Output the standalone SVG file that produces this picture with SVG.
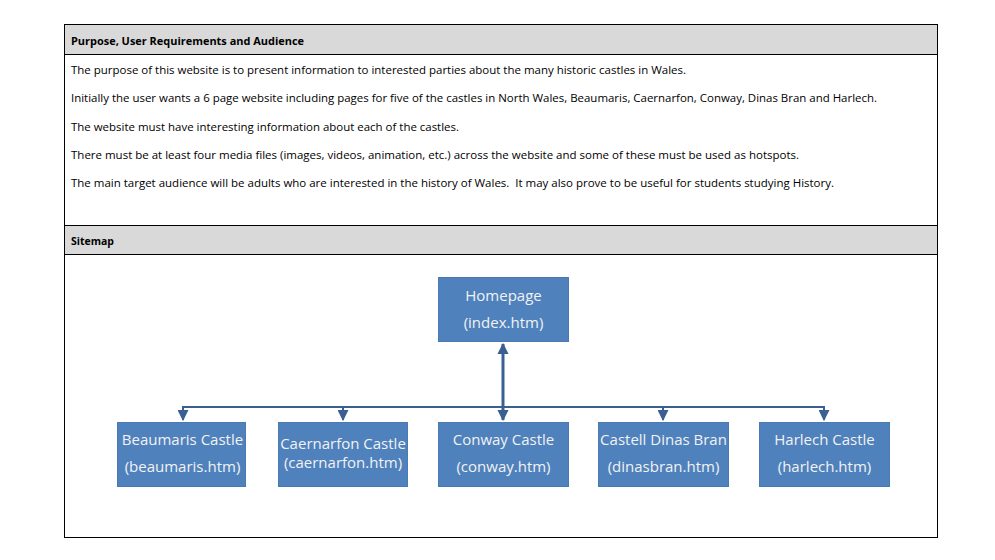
<svg xmlns="http://www.w3.org/2000/svg" width="995" height="560" viewBox="0 0 995 560">
<style>
.hdr{fill:#d9d9d9;stroke:#000;stroke-width:1}
.frame{fill:#fff;stroke:#000;stroke-width:1}
.t{font-family:"Open Sans","Liberation Sans",sans-serif;font-size:11px;fill:#000}
.b{font-weight:bold}
.box{fill:#4f81bd;stroke:#4a7ab3;stroke-width:1}
.bt{font-family:"Open Sans","Liberation Sans",sans-serif;font-size:15px;fill:#f2f2f2;text-anchor:middle}
.ln{stroke:#3a5f92;stroke-width:2;fill:none}
.ln3{stroke:#3a5f92;stroke-width:3;fill:none}
</style>
<defs>
<marker id="ah" viewBox="0 0 10 10" refX="9" refY="5" markerWidth="5.5" markerHeight="5.5" orient="auto-start-reverse" markerUnits="strokeWidth">
<path d="M0,0 L10,5 L0,10 z" fill="#3a5f92"/>
</marker>
<marker id="ah3" viewBox="0 0 10 10" refX="9" refY="5" markerWidth="3.7" markerHeight="3.7" orient="auto-start-reverse" markerUnits="strokeWidth">
<path d="M0,0 L10,5 L0,10 z" fill="#3a5f92"/>
</marker>
</defs>
<rect width="995" height="560" fill="#fff"/>
<g id="table">
<rect class="frame" x="64.5" y="24.5" width="873" height="513"/>
<rect class="hdr" x="64.5" y="24.5" width="873" height="30"/>
<rect class="hdr" x="64.5" y="225.5" width="873" height="29"/>
<text class="t b" x="71" y="45" textLength="233" lengthAdjust="spacingAndGlyphs">Purpose, User Requirements and Audience</text>
<text class="t" x="71" y="74" textLength="615" lengthAdjust="spacingAndGlyphs">The purpose of this website is to present information to interested parties about the many historic castles in Wales.</text>
<text class="t" x="71" y="102" textLength="806" lengthAdjust="spacingAndGlyphs">Initially the user wants a 6 page website including pages for five of the castles in North Wales, Beaumaris, Caernarfon, Conway, Dinas Bran and Harlech.</text>
<text class="t" x="71" y="131" textLength="388" lengthAdjust="spacingAndGlyphs">The website must have interesting information about each of the castles.</text>
<text class="t" x="71" y="159" textLength="728" lengthAdjust="spacingAndGlyphs">There must be at least four media files (images, videos, animation, etc.) across the website and some of these must be used as hotspots.</text>
<text class="t" x="71" y="187" textLength="763" lengthAdjust="spacingAndGlyphs" xml:space="preserve">The main target audience will be adults who are interested in the history of Wales.  It may also prove to be useful for students studying History.</text>
<text class="t b" x="71" y="245" textLength="43" lengthAdjust="spacingAndGlyphs">Sitemap</text>
</g>
<g id="connectors">
<path class="ln" d="M183,407 H824"/>
<path class="ln3" d="M503,344 V420" marker-start="url(#ah3)" marker-end="url(#ah3)"/>
<path class="ln" d="M183,406 V420" marker-end="url(#ah)"/>
<path class="ln" d="M343,406 V420" marker-end="url(#ah)"/>
<path class="ln" d="M663,406 V420" marker-end="url(#ah)"/>
<path class="ln" d="M824,406 V420" marker-end="url(#ah)"/>
</g>
<g id="homepage">
<rect class="box" x="438.5" y="277.5" width="130" height="64"/>
<text class="bt" x="503.5" y="301">Homepage</text>
<text class="bt" x="503.5" y="328">(index.htm)</text>
</g>
<g id="beaumaris">
<rect class="box" x="117.5" y="422.5" width="128" height="64"/>
<text class="bt" x="182.5" y="445">Beaumaris Castle</text>
<text class="bt" x="182.5" y="472">(beaumaris.htm)</text>
</g>
<g id="caernarfon">
<rect class="box" x="278.5" y="422.5" width="129" height="64"/>
<text class="bt" x="343" y="449">Caernarfon Castle</text>
<text class="bt" x="343" y="468">(caernarfon.htm)</text>
</g>
<g id="conway">
<rect class="box" x="438.5" y="422.5" width="130" height="64"/>
<text class="bt" x="503.5" y="445">Conway Castle</text>
<text class="bt" x="503.5" y="472">(conway.htm)</text>
</g>
<g id="dinasbran">
<rect class="box" x="598.5" y="422.5" width="130" height="64"/>
<text class="bt" x="663.5" y="445">Castell Dinas Bran</text>
<text class="bt" x="663.5" y="472">(dinasbran.htm)</text>
</g>
<g id="harlech">
<rect class="box" x="759.5" y="422.5" width="130" height="64"/>
<text class="bt" x="824.5" y="445">Harlech Castle</text>
<text class="bt" x="824.5" y="472">(harlech.htm)</text>
</g>
</svg>
